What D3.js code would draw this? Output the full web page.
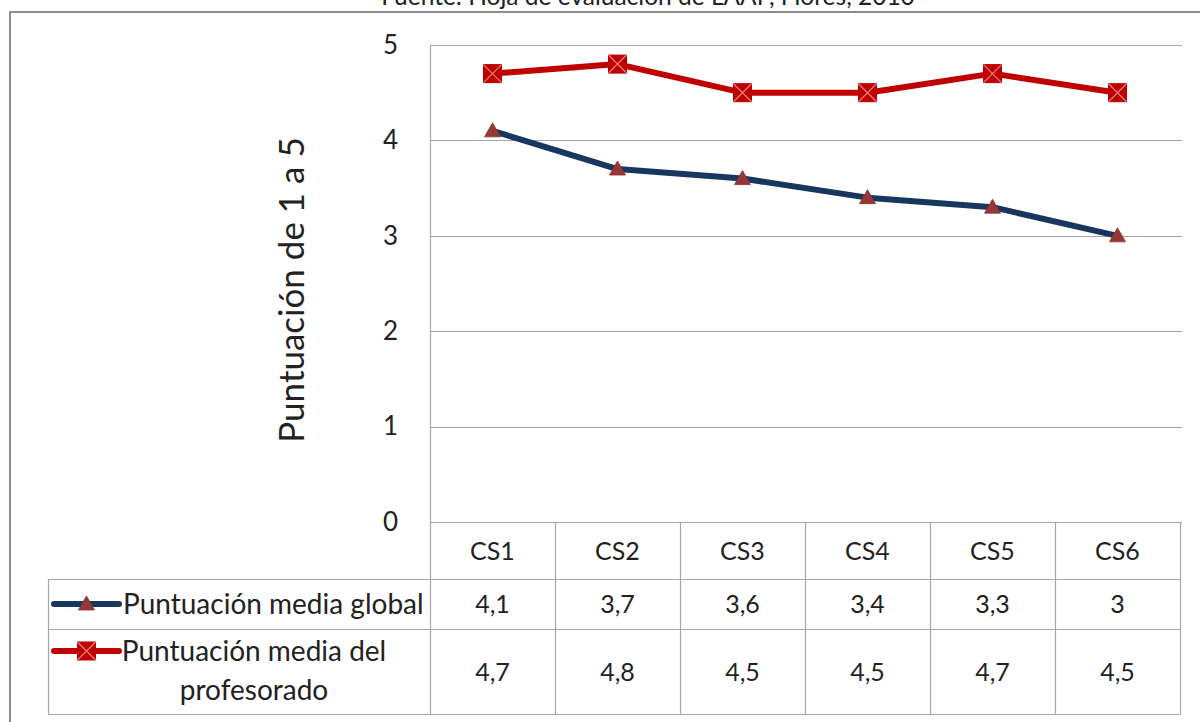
<!DOCTYPE html>
<html>
<head>
<meta charset="utf-8">
<script src="https://cdn.jsdelivr.net/npm/d3@7"></script>
<style>
  html, body { margin: 0; padding: 0; background: #fff; }
  svg { display: block; }
  text { font-family: Lato, "Open Sans", sans-serif; fill: #222; }
</style>
</head>
<body>
<svg id="chart" width="1200" height="722"></svg>
<script>
// Categories and series
const categories = ["CS1", "CS2", "CS3", "CS4", "CS5", "CS6"];
const globalScores = [4.1, 3.7, 3.6, 3.4, 3.3, 3];
const teacherScores = [4.7, 4.8, 4.5, 4.5, 4.7, 4.5];
const seriesNames = ["Puntuación media global", "Puntuación media del profesorado"];
const yTicks = [0, 1, 2, 3, 4, 5];
const sourceNote = "Fuente: Hoja de evaluación de LAAP, Flores, 2010";
const yTitle = "Puntuación de 1 a 5";

const svg = d3.select("#chart");
const W = 1200, H = 722;
const plot = { left: 430, right: 1180, top: 45, bottom: 522 };
const table = { left: 48, headerBottom: 579, row1Bottom: 629, row2Bottom: 714 };
const gridColor = "#a6a6a6";

const comma = d3.formatLocale({ decimal: ",", thousands: ".", grouping: [3], currency: ["", ""] }).format("~r");

const x = d3.scaleBand().domain(categories).range([plot.left, plot.right]);
const y = d3.scaleLinear().domain([0, 5]).range([plot.bottom, plot.top]);

// Source note (runs off the top edge of the frame)
svg.append("text")
  .attr("x", 648).attr("y", 5)
  .attr("text-anchor", "middle")
  .style("font-size", "24.5px")
  .text(sourceNote);

// Outer frame
svg.append("rect")
  .attr("x", 10).attr("y", 12)
  .attr("width", W + 20).attr("height", H + 20)
  .attr("fill", "none").attr("stroke", "#8c8c8c").attr("stroke-width", 2);

// Horizontal gridlines
svg.append("g").selectAll("line").data(yTicks).join("line")
  .attr("x1", plot.left).attr("x2", plot.right + 2)
  .attr("y1", d => Math.round(y(d)) + 0.5).attr("y2", d => Math.round(y(d)) + 0.5)
  .attr("stroke", gridColor).attr("stroke-width", 1.2);

// Value axis
const yAxis = svg.append("g")
  .attr("transform", `translate(${plot.left},0)`)
  .call(d3.axisLeft(y).tickValues(yTicks).tickSize(0).tickPadding(32).tickFormat(d3.format("d")));
yAxis.select(".domain").attr("stroke", gridColor).attr("stroke-width", 1.2);
yAxis.selectAll("text").style("font-size", "26px").style("font-family", "Lato, sans-serif").attr("fill", "#222");

// Axis title
svg.append("text")
  .attr("transform", `translate(304,290) rotate(-90)`)
  .attr("text-anchor", "middle")
  .style("font-size", "35px")
  .text(yTitle);

// Data table grid
const tg = svg.append("g").attr("stroke", gridColor).attr("stroke-width", 1.2).attr("fill", "none");
const edges = categories.map(c => x(c)).concat([plot.right]);
tg.selectAll("line.v").data(edges).join("line")
  .attr("x1", d => Math.round(d) + 0.5).attr("x2", d => Math.round(d) + 0.5)
  .attr("y1", plot.bottom).attr("y2", table.row2Bottom);
tg.append("line").attr("x1", table.left + 0.5).attr("x2", table.left + 0.5)
  .attr("y1", table.headerBottom).attr("y2", table.row2Bottom);
[table.headerBottom, table.row1Bottom, table.row2Bottom].forEach(v => {
  tg.append("line").attr("x1", table.left).attr("x2", plot.right + 0.5)
    .attr("y1", v + 0.5).attr("y2", v + 0.5);
});

// Category labels
svg.append("g").selectAll("text").data(categories).join("text")
  .attr("x", d => x(d) + x.bandwidth() / 2)
  .attr("y", (plot.bottom + table.headerBottom) / 2 + 9)
  .attr("text-anchor", "middle")
  .style("font-size", "25px")
  .text(d => d);

// Values in the table
const rowCenters = [(table.headerBottom + table.row1Bottom) / 2, (table.row1Bottom + table.row2Bottom) / 2];
[globalScores, teacherScores].forEach((vals, i) => {
  svg.append("g").selectAll("text").data(vals).join("text")
    .attr("x", (d, j) => x(categories[j]) + x.bandwidth() / 2)
    .attr("y", rowCenters[i] + 9)
    .attr("text-anchor", "middle")
    .style("font-size", "25px")
    .text(d => comma(d));
});

// Series styling
const blue = "#17375e", red = "#c00000", triFill = "#953735";
const line = d3.line().x((d, i) => x(categories[i]) + x.bandwidth() / 2).y(d => y(d));

function triangle(g, cx, cy) {
  g.append("path")
    .attr("d", `M${cx},${cy - 8} L${cx + 8},${cy + 6} L${cx - 8},${cy + 6} Z`)
    .attr("fill", triFill).attr("stroke", "#8a3230").attr("stroke-width", 0.8);
}
function xSquare(g, cx, cy) {
  const s = 9;
  g.append("rect").attr("x", cx - s).attr("y", cy - s).attr("width", 2 * s).attr("height", 2 * s)
    .attr("fill", red).attr("stroke", "#b80000").attr("stroke-width", 1);
  g.append("path")
    .attr("d", `M${cx - s},${cy - s} L${cx + s},${cy + s} M${cx + s},${cy - s} L${cx - s},${cy + s}`)
    .attr("stroke", "#e57b7b").attr("stroke-width", 1.3);
}

// Lines
svg.append("path").datum(globalScores)
  .attr("d", line).attr("fill", "none").attr("stroke", blue)
  .attr("stroke-width", 6).attr("stroke-linejoin", "round").attr("stroke-linecap", "round");
svg.append("path").datum(teacherScores)
  .attr("d", line).attr("fill", "none").attr("stroke", red)
  .attr("stroke-width", 6).attr("stroke-linejoin", "round").attr("stroke-linecap", "round");

// Markers
const mk = svg.append("g");
globalScores.forEach((v, i) => triangle(mk, x(categories[i]) + x.bandwidth() / 2, y(v)));
teacherScores.forEach((v, i) => xSquare(mk, x(categories[i]) + x.bandwidth() / 2, y(v)));

// Legend keys in the table
const keyX1 = 54, keyX2 = 119, keyMid = (keyX1 + keyX2) / 2;
const keyY = [rowCenters[0], 651];
const lg = svg.append("g");
lg.append("line").attr("x1", keyX1).attr("x2", keyX2).attr("y1", keyY[0]).attr("y2", keyY[0])
  .attr("stroke", blue).attr("stroke-width", 6).attr("stroke-linecap", "round");
triangle(lg, keyMid, keyY[0]);
lg.append("line").attr("x1", keyX1).attr("x2", keyX2).attr("y1", keyY[1]).attr("y2", keyY[1])
  .attr("stroke", red).attr("stroke-width", 6).attr("stroke-linecap", "round");
xSquare(lg, keyMid, keyY[1]);

// Series names
svg.append("text").attr("x", 123).attr("y", keyY[0] + 10)
  .style("font-size", "28px").text(seriesNames[0]);
const nameLines = ["Puntuación media del", "profesorado"];
const t2 = svg.append("text").attr("text-anchor", "middle").style("font-size", "28px");
nameLines.forEach((s, k) => {
  t2.append("tspan").attr("x", 254).attr("y", 661 + k * 39).text(s);
});
</script>
</body>
</html>
